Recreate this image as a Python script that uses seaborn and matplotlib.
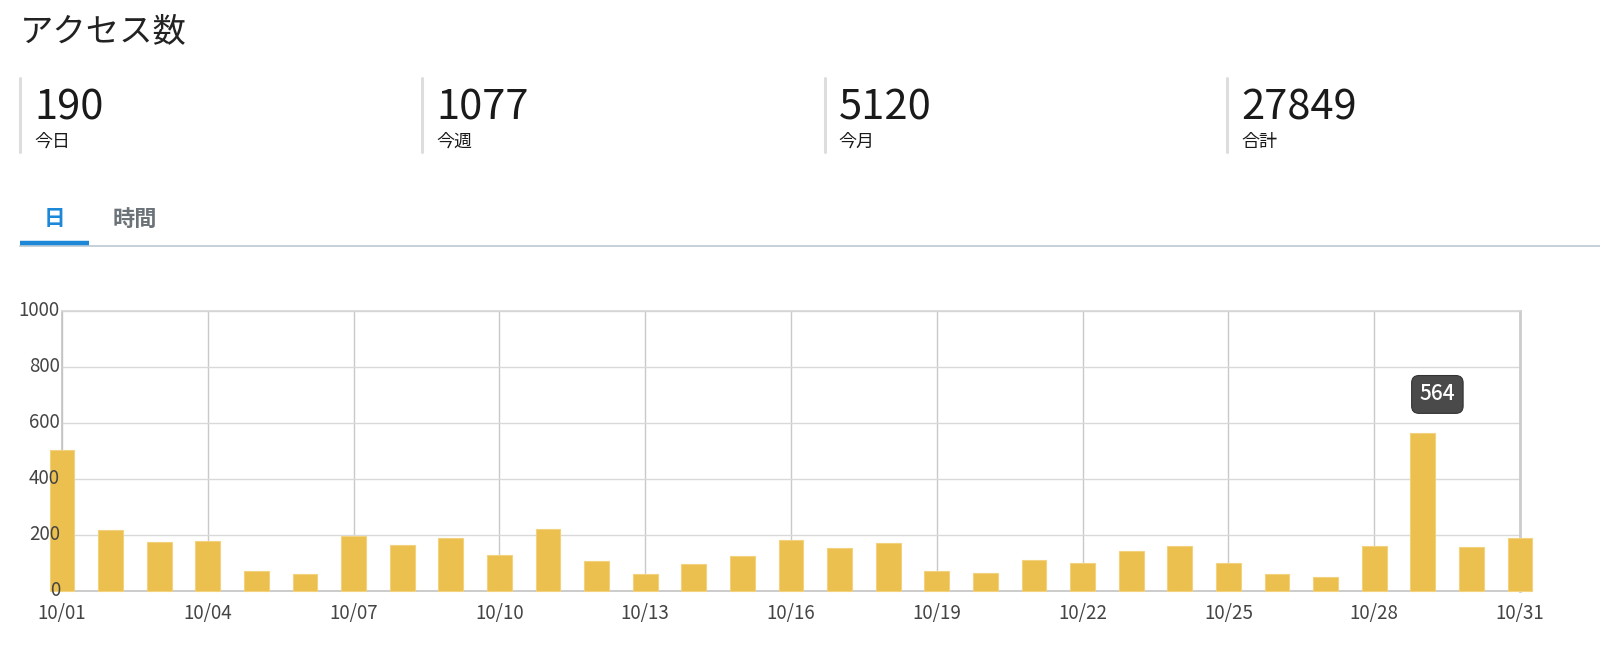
import matplotlib
matplotlib.use("Agg")
import matplotlib.pyplot as plt
from matplotlib.lines import Line2D
import seaborn as sns
import pandas as pd

# données
days = [f"10/{d:02d}" for d in range(1, 32)]
visits = [503, 218, 174, 180, 70, 60, 196, 164, 189, 130, 220, 106, 61, 98, 125, 182,
          152, 170, 70, 63, 110, 100, 143, 161, 100, 61, 50, 160, 564, 157, 190]
stat_values = ["190", "1077", "5120", "27849"]
stat_labels = ["今日", "今週", "今月", "合計"]
tab_labels = ["日", "時間"]
title = "アクセス数"
highlight_day = "10/29"
y_ticks = [0, 200, 400, 600, 800, 1000]

df = pd.DataFrame({"day": days, "visits": visits})

sns.set_style("white")
plt.rcParams["font.family"] = ["Noto Sans CJK JP", "DejaVu Sans"]

fig = plt.figure(figsize=(16, 6.52), dpi=100)
W, H = 1600, 652


def fx(px):
    return px / W


def fy(py):
    return 1 - py / H


# titre
fig.text(fx(20), fy(41), title, fontsize=24, color="#222222", va="baseline")

# blocs de statistiques
for i, (v, lab) in enumerate(zip(stat_values, stat_labels)):
    x0 = 20 + i * 402.3
    fig.add_artist(Line2D([fx(x0), fx(x0)], [fy(78), fy(152)], color="#dddddd", lw=2.2))
    fig.text(fx(x0 + 14), fy(119), v, fontsize=30, color="#1a1a1a", va="baseline")
    fig.text(fx(x0 + 14), fy(147), lab, fontsize=13, color="#1a1a1a", va="baseline")

# onglets
fig.add_artist(Line2D([fx(20), fx(1600)], [fy(246), fy(246)], color="#c5d0d8", lw=1.4))
fig.add_artist(Line2D([fx(20), fx(89)], [fy(243), fy(243)], color="#1e88d8", lw=3.2,
                      solid_capstyle="butt"))
fig.text(fx(54), fy(219), tab_labels[0], fontsize=15.5, fontweight="bold", color="#1e88d8",
         ha="center", va="center")
fig.text(fx(135), fy(219), tab_labels[1], fontsize=16, fontweight="bold", color="#6b7278",
         ha="center", va="center")

# graphique
ax = fig.add_axes([fx(62), fy(591), fx(1520) - fx(62), (591 - 311) / H])
sns.barplot(data=df, x="day", y="visits", color="#ebc04e", width=0.51, saturation=1,
            edgecolor="#f2d27e", linewidth=0.8, ax=ax, zorder=3)
for p in ax.patches:
    p.set_clip_on(False)

ax.set_xlim(0, 30)
ax.set_ylim(0, 1000)
ax.set_yticks(y_ticks)
ax.set_yticklabels([])
ax.set_xticks(range(0, 31, 3))
ax.set_xticklabels(days[::3])
ax.set_xlabel("")
ax.set_ylabel("")
ax.tick_params(axis="both", length=0, labelsize=13.5, colors="#444444")
ax.tick_params(axis="x", pad=9)

# étiquettes de l'axe y au-dessus des barres
for v in y_ticks:
    ax.annotate(str(v), xy=(0, v), xycoords=ax.get_yaxis_transform(), xytext=(-1.5, 0),
                textcoords="offset points", ha="right", va="center", fontsize=13.5,
                color="#444444", zorder=10, annotation_clip=False)

ax.grid(axis="y", color="#d9d9d9", lw=1.0, zorder=0)
ax.grid(axis="x", color="#c9c9c9", lw=1.0, zorder=0)
ax.set_axisbelow(True)

for side in ["left", "bottom"]:
    ax.spines[side].set_color("#c4c4c4")
    ax.spines[side].set_linewidth(1.2)
ax.spines["top"].set_color("#d6d6d6")
ax.spines["top"].set_linewidth(1.2)
ax.spines["right"].set_color("#cccccc")
ax.spines["right"].set_linewidth(2.0)

# infobulle
hx = days.index(highlight_day)
hv = visits[hx]
ax.text(hx + 0.3, hv + 138, str(hv), fontsize=15, color="white", ha="center", va="center",
        fontweight="medium",
        bbox=dict(boxstyle="round,pad=0.38,rounding_size=0.35", fc="#4a4a4a", ec="#333333", lw=0.8),
        zorder=5)

fig.savefig("out.png", dpi=100)
